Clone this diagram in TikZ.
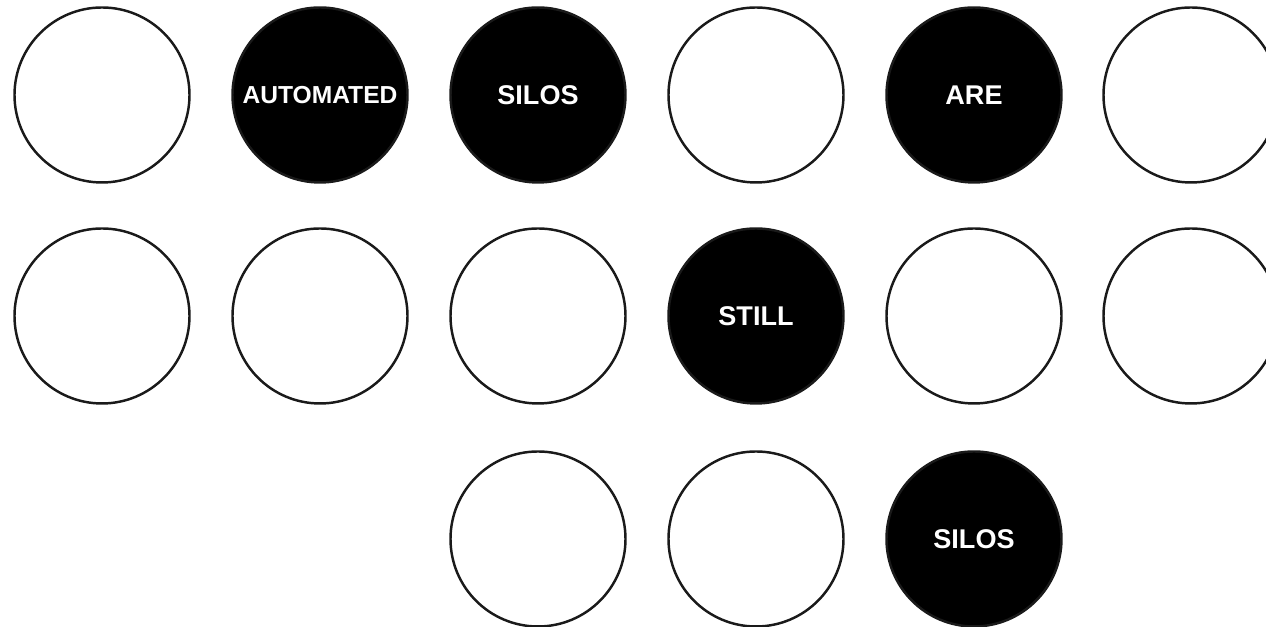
\documentclass[tikz,border=0pt]{standalone}
\usepackage{fontspec}
\setmainfont{Liberation Sans}
\usetikzlibrary{positioning}
\definecolor{Ink}{HTML}{000000}
\definecolor{Rim}{HTML}{1A1A1A}
\tikzset{
  ring/.style={circle,draw=Rim,fill=white,line width=0.7pt,
               minimum size=1.75cm,inner sep=0pt},
  word/.style={ring,fill=Ink,text=white,font=\bfseries\fontsize{7.7}{8}\selectfont},
  longword/.style={word,font=\bfseries\fontsize{7}{7}\selectfont}
}

\begin{document}
\begin{tikzpicture}[line cap=round,line join=round]
    \useasboundingbox (0,0) rectangle (12.66,6.27);
    \clip (0,0) rectangle (12.66,6.27);
    % top row
    \node[ring] (r1c1) at (1.02,5.32) {};
    \node[longword] (r1c2) at (3.20,5.32) {AUTOMATED};
    \node[word] (r1c3) at (5.38,5.32) {SILOS};
    \node[ring] (r1c4) at (7.56,5.32) {};
    \node[word] (r1c5) at (9.74,5.32) {ARE};
    \node[ring] (r1c6) at (11.91,5.32) {};
    % middle row
    \node[ring] (r2c1) at (1.02,3.11) {};
    \node[ring] (r2c2) at (3.20,3.11) {};
    \node[ring] (r2c3) at (5.38,3.11) {};
    \node[word] (r2c4) at (7.56,3.11) {STILL};
    \node[ring] (r2c5) at (9.74,3.11) {};
    \node[ring] (r2c6) at (11.91,3.11) {};
    % bottom row
    \node[ring] (r3c3) at (5.38,0.88) {};
    \node[ring] (r3c4) at (7.56,0.88) {};
    \node[word] (r3c5) at (9.74,0.88) {SILOS};
  \end{tikzpicture}
\end{document}
